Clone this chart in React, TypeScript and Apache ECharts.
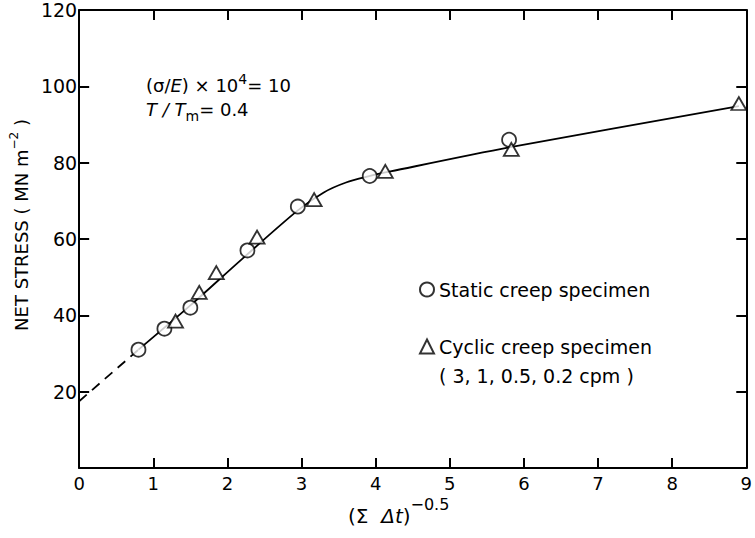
import React, { useEffect, useRef } from "react";
import * as echarts from "echarts";

// Static creep specimens (circles)
const staticX = [0.8, 1.15, 1.5, 2.27, 2.95, 3.92, 5.8];
const staticY = [31, 36.5, 42, 57, 68.5, 76.5, 86];

// Cyclic creep specimens (triangles)
const cyclicX = [1.3, 1.62, 1.85, 2.4, 3.17, 4.13, 5.83, 8.9];
const cyclicY = [38.5, 46, 51.2, 60.5, 70.3, 77.7, 83.5, 95.5];

// Fitted curve (solid) and extrapolation (dashed)
const fitX = [0.8, 1.5, 2.2, 2.95, 3.3, 3.6, 3.9, 4.2, 5.8, 8.9];
const fitY = [31, 42.6, 54.8, 67.5, 72.2, 74.8, 76.4, 77.7, 84, 94.8];
const extrapX = [0, 0.8];
const extrapY = [17.5, 31];

const FONT = "DejaVu Sans";

const pairs = (xs: number[], ys: number[]) => xs.map((x, i) => [x, ys[i]]);

export default function App() {
  const ref = useRef<HTMLDivElement>(null);
  useEffect(() => {
    const chart = echarts.init(ref.current!, null, { renderer: "svg" });
    const axisLine = { show: true, onZero: false, lineStyle: { color: "#000", width: 2 } };
    const tick = { show: true, inside: true, length: 10, lineStyle: { color: "#000", width: 2 } };
    const markStyle = { color: "#fff", borderColor: "#000", borderWidth: 1.8 };
    chart.setOption({
      animation: false,
      backgroundColor: "#fff",
      textStyle: { fontFamily: FONT, color: "#000" },
      grid: { left: 79, right: 4, top: 10, bottom: 70 },
      xAxis: [
        {
          type: "value",
          position: "bottom",
          min: 0,
          max: 9,
          interval: 1,
          axisLine,
          axisTick: tick,
          splitLine: { show: false },
          axisLabel: { color: "#000", fontSize: 18, fontFamily: FONT, margin: 6 },
          name: "{p|(Σ  }{i|Δt}{p|)}{sup|−0.5}",
          nameLocation: "middle",
          nameGap: 25,
          nameTextStyle: {
            padding: [0, 28, 0, 0],
            rich: {
              p: { fontSize: 20, fontFamily: FONT, color: "#000", lineHeight: 29, verticalAlign: "bottom" },
              i: { fontSize: 20, fontFamily: FONT, fontStyle: "italic", color: "#000", lineHeight: 29, verticalAlign: "bottom" },
              sup: { fontSize: 16, fontFamily: FONT, color: "#000", lineHeight: 16, verticalAlign: "top" },
            },
          },
        },
        {
          type: "value",
          position: "top",
          min: 0,
          max: 9,
          interval: 1,
          axisLine,
          axisTick: tick,
          axisLabel: { show: false },
          splitLine: { show: false },
        },
      ],
      yAxis: [
        {
          type: "value",
          position: "left",
          min: 0,
          max: 120,
          interval: 20,
          axisLine,
          axisTick: tick,
          splitLine: { show: false },
          axisLabel: {
            color: "#000",
            fontSize: 19,
            fontFamily: FONT,
            margin: 2,
            formatter: (v: number) => (v === 0 ? "" : String(v)),
          },
          name: "{p|NET STRESS ( MN m}{sup|−2}{p| )}",
          nameLocation: "middle",
          nameGap: 45,
          nameRotate: 90,
          nameTextStyle: {
            padding: [0, 0, 0, 28],
            rich: {
              p: { fontSize: 18, fontFamily: FONT, color: "#000", lineHeight: 22, verticalAlign: "bottom" },
              sup: { fontSize: 12, fontFamily: FONT, color: "#000", lineHeight: 12, verticalAlign: "top" },
            },
          },
        },
        {
          type: "value",
          position: "right",
          min: 0,
          max: 120,
          interval: 20,
          axisLine,
          axisTick: tick,
          axisLabel: { show: false },
          splitLine: { show: false },
        },
      ],
      legend: {
        orient: "vertical",
        left: 414,
        top: 275,
        itemGap: 38,
        itemWidth: 14,
        itemHeight: 14,
        textStyle: { fontSize: 19, fontFamily: FONT, color: "#000" },
        data: [
          { name: "Static creep specimen", icon: "circle" },
          { name: "Cyclic creep specimen", icon: "triangle" },
        ],
      },
      graphic: [
        {
          type: "text",
          left: 439,
          top: 366,
          style: { text: "( 3, 1, 0.5, 0.2 cpm )", font: `19px '${FONT}'`, fill: "#000" },
        },
        {
          type: "text",
          left: 146,
          top: 72,
          style: {
            text: "{p|(σ/}{i|E}{p|) × 10}{sup|4}{p|= 10}",
            rich: {
              p: { fontSize: 18, fontFamily: FONT, fill: "#000", lineHeight: 22, verticalAlign: "bottom" },
              i: { fontSize: 18, fontFamily: FONT, fontStyle: "italic", fill: "#000", lineHeight: 22, verticalAlign: "bottom" },
              sup: { fontSize: 14, fontFamily: FONT, fill: "#000", lineHeight: 14, verticalAlign: "top" },
            },
          },
        },
        {
          type: "text",
          left: 146,
          top: 100,
          style: {
            text: "{i|T / T}{sub|m}{p|= 0.4}",
            rich: {
              p: { fontSize: 18, fontFamily: FONT, fill: "#000", lineHeight: 23, verticalAlign: "top" },
              i: { fontSize: 18, fontFamily: FONT, fontStyle: "italic", fill: "#000", lineHeight: 23, verticalAlign: "top" },
              sub: { fontSize: 14, fontFamily: FONT, fill: "#000", lineHeight: 14, verticalAlign: "bottom" },
            },
          },
        },
      ],
      series: [
        {
          name: "fit",
          type: "line",
          data: pairs(fitX, fitY),
          smooth: 0.3,
          showSymbol: false,
          symbol: "none",
          lineStyle: { color: "#000", width: 1.8 },
          z: 1,
        },
        {
          name: "extrapolation",
          type: "line",
          data: pairs(extrapX, extrapY),
          showSymbol: false,
          symbol: "none",
          lineStyle: { color: "#000", width: 1.8, type: [10, 7] },
          z: 1,
        },
        {
          name: "Static creep specimen",
          type: "scatter",
          data: pairs(staticX, staticY),
          symbol: "circle",
          symbolSize: 14,
          itemStyle: markStyle,
          z: 3,
        },
        {
          name: "Cyclic creep specimen",
          type: "scatter",
          data: pairs(cyclicX, cyclicY),
          symbol: "triangle",
          symbolSize: [15, 13],
          itemStyle: markStyle,
          z: 3,
        },
      ],
    });
    return () => chart.dispose();
  }, []);
  return <div ref={ref} style={{ position: "fixed", left: 0, top: 0, width: 755, height: 538 }} />;
}
